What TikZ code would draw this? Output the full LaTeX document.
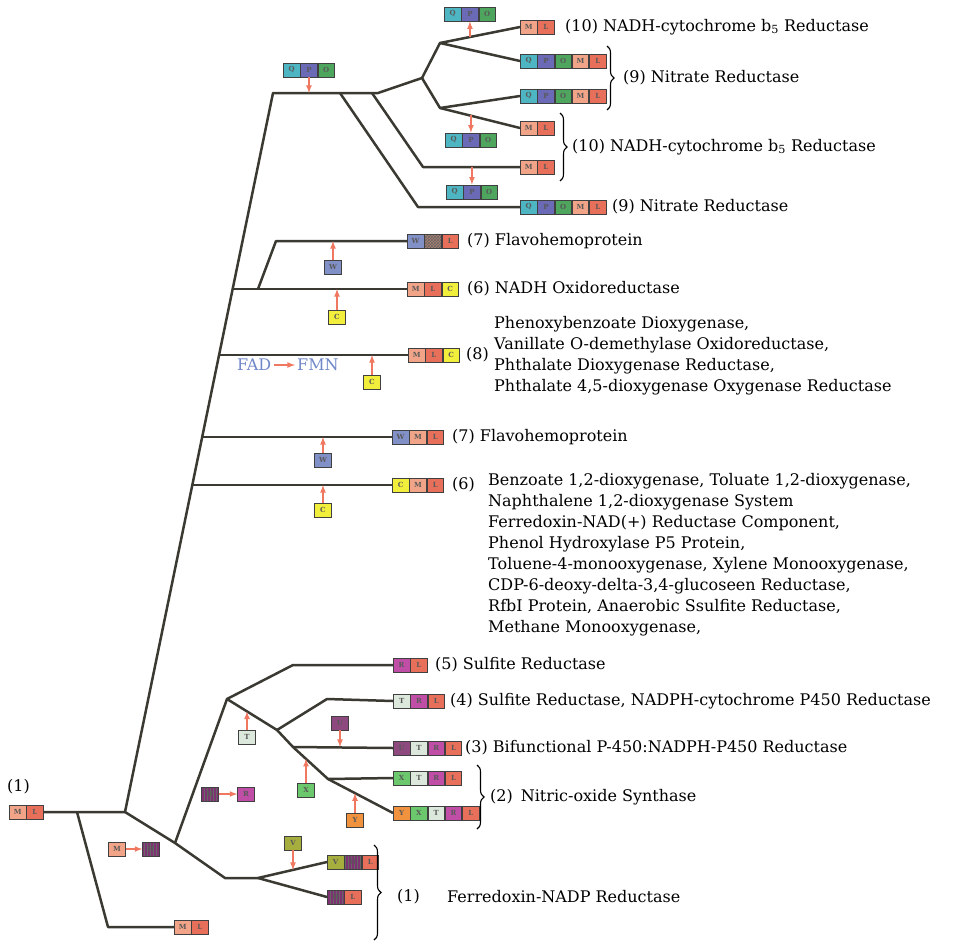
\documentclass[tikz,border=0pt]{standalone}
\usepackage{fontspec}
\setmainfont{DejaVu Serif}
\usetikzlibrary{positioning,patterns,decorations.pathreplacing}

\definecolor{qcol}{HTML}{4DB6C2}
\definecolor{pcol}{HTML}{6A6AB6}
\definecolor{ocol}{HTML}{4EA65E}
\definecolor{mcol}{HTML}{F2A488}
\definecolor{lcol}{HTML}{E8705A}
\definecolor{wcol}{HTML}{8290C8}
\definecolor{ccol}{HTML}{F2EE3C}
\definecolor{rcol}{HTML}{C04EA6}
\definecolor{tcol}{HTML}{DCE8DC}
\definecolor{ucol}{HTML}{8E4A7E}
\definecolor{xcol}{HTML}{6CC86C}
\definecolor{ycol}{HTML}{F0923E}
\definecolor{vcol}{HTML}{A6AE3E}
\definecolor{hcol}{HTML}{7E3272}
\definecolor{zcol}{HTML}{B08070}
\definecolor{arrcol}{HTML}{F07860}
\definecolor{treecol}{HTML}{3A3A32}
\definecolor{fadcol}{HTML}{7088C8}

\tikzset{
	cell/.style    = {draw=black!75, line width=0.8pt, minimum width=16.5pt, minimum height=14pt, inner sep=0pt, font=\fontsize{7}{7}\selectfont\bfseries, text=black!65},
	qcell/.style   = {cell, fill=qcol},
	pcell/.style   = {cell, fill=pcol},
	ocell/.style   = {cell, fill=ocol},
	mcell/.style   = {cell, fill=mcol},
	lcell/.style   = {cell, fill=lcol},
	wcell/.style   = {cell, fill=wcol},
	ccell/.style   = {cell, fill=ccol},
	rcell/.style   = {cell, fill=rcol},
	tcell/.style   = {cell, fill=tcol},
	ucell/.style   = {cell, fill=ucol},
	xcell/.style   = {cell, fill=xcol},
	ycell/.style   = {cell, fill=ycol},
	vcell/.style   = {cell, fill=vcol},
	hcell/.style   = {cell, preaction={fill=hcol}, pattern=vertical lines, pattern color=black!60},
	zcell/.style   = {cell, preaction={fill=zcol}, pattern=crosshatch, pattern color=black!60},
	branch/.style  = {draw=treecol, line width=2.5pt, line join=round},
	feed/.style    = {->, draw=arrcol, line width=1.6pt},
	enzyme/.style  = {font=\fontsize{16}{21}\selectfont, anchor=west, inner sep=0pt, align=left},
	bracket/.style = {decorate, decoration={brace, amplitude=7pt}, line width=1.1pt},
}

\begin{document}
\begin{tikzpicture}[x=1pt, y=-1pt, >=latex]
	\useasboundingbox (0,0) rectangle (955,942);

	% Branch points
	\coordinate (rootfork)  at (77,812);
	\coordinate (rootbend)  at (108,927);
	\coordinate (trunkfoot) at (125,812);
	\coordinate (trunktop)  at (273,93);
	\coordinate (topbend)   at (378,93);
	\coordinate (topfork)   at (422,78);
	\coordinate (nrupfork)  at (440,43);
	\coordinate (nrlowfork) at (440,108);
	\coordinate (nrdiag)    at (340,93);
	\coordinate (nrbend)    at (418,207);
	\coordinate (cbdiag)    at (372,93);
	\coordinate (cbbend)    at (423,167);
	\coordinate (fhafork)   at (233,289);
	\coordinate (fhasplit)  at (258,289);
	\coordinate (fhabend)   at (276,241);
	\coordinate (pdofork)   at (219,355);
	\coordinate (fhbfork)   at (202,437);
	\coordinate (bzdfork)   at (192,485);
	\coordinate (fnrdiag)   at (175,843);
	\coordinate (fnrbend)   at (225,878);
	\coordinate (fnrfork)   at (258,878);
	\coordinate (sirfork)   at (227,699);
	\coordinate (sirbend)   at (293,665);
	\coordinate (cprfork)   at (277,730);
	\coordinate (cprbend)   at (327,699);
	\coordinate (bifork)    at (293,747);
	\coordinate (nosfork)   at (328,779);

	% Root and its sister
	\node[mcell, anchor=west] (rootm) at (9,812) {M};
	\node[lcell, right=0pt of rootm] (rootl) {L};
	\node[enzyme] (roottext) at (7,787) {(1)};
	\node[mcell, anchor=west] (sism) at (174,927) {M};
	\node[lcell, right=0pt of sism] (sisl) {L};

	% Nitrate reductase / cytochrome b5 reductase group
	\node[qcell, anchor=west] (qpotopq) at (283,70) {Q};
	\node[pcell, right=0pt of qpotopq] (qpotopp) {P};
	\node[ocell, right=0pt of qpotopp] (qpotopo) {O};

	\node[mcell, anchor=west] (cbam) at (520,27) {M};
	\node[lcell, right=0pt of cbam] (cbal) {L};
	\node[qcell, anchor=west] (nraq) at (520,61) {Q};
	\node[pcell, right=0pt of nraq] (nrap) {P};
	\node[ocell, right=0pt of nrap] (nrao) {O};
	\node[mcell, right=0pt of nrao] (nram) {M};
	\node[lcell, right=0pt of nram] (nral) {L};
	\node[qcell, anchor=west] (nrbq) at (520,96) {Q};
	\node[pcell, right=0pt of nrbq] (nrbp) {P};
	\node[ocell, right=0pt of nrbp] (nrbo) {O};
	\node[mcell, right=0pt of nrbo] (nrbm) {M};
	\node[lcell, right=0pt of nrbm] (nrbl) {L};
	\node[mcell, anchor=west] (cbbm) at (520,128) {M};
	\node[lcell, right=0pt of cbbm] (cbbl) {L};
	\node[mcell, anchor=west] (cbcm) at (520,167) {M};
	\node[lcell, right=0pt of cbcm] (cbcl) {L};
	\node[qcell, anchor=west] (nrcq) at (520,207) {Q};
	\node[pcell, right=0pt of nrcq] (nrcp) {P};
	\node[ocell, right=0pt of nrcp] (nrco) {O};
	\node[mcell, right=0pt of nrco] (nrcm) {M};
	\node[lcell, right=0pt of nrcm] (nrcl) {L};

	\node[qcell, anchor=west] (qpoupq) at (444,14) {Q};
	\node[pcell, right=0pt of qpoupq] (qpoupp) {P};
	\node[ocell, right=0pt of qpoupp] (qpoupo) {O};
	\node[qcell, anchor=west] (qpomidq) at (445,140) {Q};
	\node[pcell, right=0pt of qpomidq] (qpomidp) {P};
	\node[ocell, right=0pt of qpomidp] (qpomido) {O};
	\node[qcell, anchor=west] (qpolowq) at (446,192) {Q};
	\node[pcell, right=0pt of qpolowq] (qpolowp) {P};
	\node[ocell, right=0pt of qpolowp] (qpolowo) {O};

	\node[enzyme] (cbatext) at (565,27) {(10) NADH-cytochrome b\textsubscript{5} Reductase};
	\node[enzyme] (nrabtext) at (623,78) {(9) Nitrate Reductase};
	\node[enzyme] (cbbctext) at (572,147) {(10) NADH-cytochrome b\textsubscript{5} Reductase};
	\node[enzyme] (nrctext) at (612,207) {(9) Nitrate Reductase};

	% Flavohemoprotein, oxidoreductases
	\node[wcell, anchor=west] (fhaw) at (407,241) {W};
	\node[zcell, right=0pt of fhaw] (fhaz) {};
	\node[lcell, right=0pt of fhaz] (fhal) {L};
	\node[wcell] (fhawin) at (333,267) {W};
	\node[mcell, anchor=west] (noxm) at (407,289) {M};
	\node[lcell, right=0pt of noxm] (noxl) {L};
	\node[ccell, right=0pt of noxl] (noxc) {C};
	\node[ccell] (noxcin) at (337,317) {C};
	\node[mcell, anchor=west] (pdom) at (408,355) {M};
	\node[lcell, right=0pt of pdom] (pdol) {L};
	\node[ccell, right=0pt of pdol] (pdoc) {C};
	\node[ccell] (pdocin) at (372,382) {C};
	\node[enzyme, text=fadcol] (fad) at (237,365) {FAD};
	\node[enzyme, text=fadcol] (fmn) at (297,365) {FMN};
	\node[wcell, anchor=west] (fhbw) at (392,437) {W};
	\node[mcell, right=0pt of fhbw] (fhbm) {M};
	\node[lcell, right=0pt of fhbm] (fhbl) {L};
	\node[wcell] (fhbwin) at (323,460) {W};
	\node[ccell, anchor=west] (bzdc) at (392,485) {C};
	\node[mcell, right=0pt of bzdc] (bzdm) {M};
	\node[lcell, right=0pt of bzdm] (bzdl) {L};
	\node[ccell] (bzdcin) at (323,510) {C};

	\node[enzyme] (fhatext) at (467,241) {(7) Flavohemoprotein};
	\node[enzyme] (noxtext) at (467,289) {(6) NADH Oxidoreductase};
	\node[enzyme] (pdonum) at (466,355) {(8)};
	\node[enzyme] (pdotext) at (494,356) {Phenoxybenzoate Dioxygenase,\\ Vanillate O-demethylase Oxidoreductase,\\ Phthalate Dioxygenase Reductase,\\ Phthalate 4,5-dioxygenase Oxygenase Reductase};
	\node[enzyme] (fhbtext) at (452,437) {(7) Flavohemoprotein};
	\node[enzyme] (bzdnum) at (452,485) {(6)};
	\node[enzyme, anchor=north west] (bzdtext) at (488,473) {Benzoate 1,2-dioxygenase, Toluate 1,2-dioxygenase,\\ Naphthalene 1,2-dioxygenase System\\ Ferredoxin-NAD(+) Reductase Component,\\ Phenol Hydroxylase P5 Protein,\\ Toluene-4-monooxygenase, Xylene Monooxygenase,\\ CDP-6-deoxy-delta-3,4-glucoseen Reductase,\\ RfbI Protein, Anaerobic Ssulfite Reductase,\\ Methane Monooxygenase,};

	% Sulfite reductase, P450 reductase, NO synthase, FNR
	\node[rcell, anchor=west] (sirr) at (393,665) {R};
	\node[lcell, right=0pt of sirr] (sirl) {L};
	\node[tcell, anchor=west] (cprt) at (393,701) {T};
	\node[rcell, right=0pt of cprt] (cprr) {R};
	\node[lcell, right=0pt of cprr] (cprl) {L};
	\node[ucell, anchor=west] (bifu) at (393,748) {U};
	\node[tcell, right=0pt of bifu] (bift) {T};
	\node[rcell, right=0pt of bift] (bifr) {R};
	\node[lcell, right=0pt of bifr] (bifl) {L};
	\node[xcell, anchor=west] (nosax) at (393,778) {X};
	\node[tcell, right=0pt of nosax] (nosat) {T};
	\node[rcell, right=0pt of nosat] (nosar) {R};
	\node[lcell, right=0pt of nosar] (nosal) {L};
	\node[ycell, anchor=west] (nosby) at (393,813) {Y};
	\node[xcell, right=0pt of nosby] (nosbx) {X};
	\node[tcell, right=0pt of nosbx] (nosbt) {T};
	\node[rcell, right=0pt of nosbt] (nosbr) {R};
	\node[lcell, right=0pt of nosbr] (nosbl) {L};
	\node[vcell, anchor=west] (fnrv) at (327,862) {V};
	\node[hcell, right=0pt of fnrv] (fnrh) {H};
	\node[lcell, right=0pt of fnrh] (fnrl) {L};
	\node[hcell, anchor=west] (fnrh2) at (327,897) {H};
	\node[lcell, right=0pt of fnrh2] (fnrl2) {L};

	\node[tcell] (tin) at (247,737) {T};
	\node[hcell] (hin) at (210,794) {H};
	\node[rcell] (rin) at (246,794) {R};
	\node[mcell] (min) at (117,849) {M};
	\node[hcell] (hin2) at (151,849) {H};
	\node[ucell] (uin) at (340,723) {U};
	\node[xcell] (xin) at (306,790) {X};
	\node[ycell] (yin) at (355,820) {Y};
	\node[vcell] (vin) at (293,843) {V};

	\node[enzyme] (sirtext) at (435,665) {(5) Sulfite Reductase};
	\node[enzyme] (cprtext) at (450,701) {(4) Sulfite Reductase, NADPH-cytochrome P450 Reductase};
	\node[enzyme] (biftext) at (465,748) {(3) Bifunctional P-450:NADPH-P450 Reductase};
	\node[enzyme] (nostext) at (490,797) {(2)\enspace Nitric-oxide Synthase};
	\node[enzyme] (fnrnum) at (397,897) {(1)};
	\node[enzyme] (fnrtext) at (447,897) {Ferredoxin-NADP Reductase};

	% Tree
	\draw[branch] (rootl.east) -- (trunkfoot) -- (trunktop) -- (topbend) -- (topfork);
	\draw[branch] (rootfork) -- (rootbend) -- (sism.west);
	\draw[branch] (topfork) -- (nrupfork) -- (cbam.west);
	\draw[branch] (nrupfork) -- (nraq.west);
	\draw[branch] (topfork) -- (nrlowfork) -- (nrbq.west);
	\draw[branch] (nrlowfork) -- (cbbm.west);
	\draw[branch] (cbdiag) -- (cbbend) -- (cbcm.west);
	\draw[branch] (nrdiag) -- (nrbend) -- (nrcq.west);
	\draw[branch] (fhafork) -- (noxm.west);
	\draw[branch] (fhasplit) -- (fhabend) -- (fhaw.west);
	\draw[branch] (pdofork) -- (pdom.west);
	\draw[branch] (fhbfork) -- (fhbw.west);
	\draw[branch] (bzdfork) -- (bzdc.west);
	\draw[branch] (trunkfoot) -- (fnrdiag) -- (fnrbend) -- (fnrfork) -- (fnrv.west);
	\draw[branch] (fnrfork) -- (fnrh2.west);
	\draw[branch] (fnrdiag) -- (sirfork) -- (sirbend) -- (sirr.west);
	\draw[branch] (sirfork) -- (cprfork) -- (bifork) -- (nosfork) -- (nosby.west);
	\draw[branch] (cprfork) -- (cprbend) -- (cprt.west);
	\draw[branch] (bifork) -- (bifu.west);
	\draw[branch] (nosfork) -- (nosax.west);

	% Feet of the domain arrows on slanted branches
	\path (nrupfork) -- (cbam.west) coordinate[pos=0.36] (qpoupfoot);
	\path (nrlowfork) -- (cbbm.west) coordinate[pos=0.36] (qpomidfoot);
	\path (sirfork) -- (cprfork) coordinate[pos=0.4] (tinfoot);
	\path (bifork) -- (nosfork) coordinate[pos=0.37] (xinfoot);
	\path (nosfork) -- (nosby.west) coordinate[pos=0.42] (yinfoot);
	\path (fnrfork) -- (fnrv.west) coordinate[pos=0.5] (vinfoot);

	% Domain gains
	\draw[feed] (qpotopp) -- (qpotopp |- trunktop);
	\draw[feed] (qpoupp |- qpoupfoot) -- (qpoupp);
	\draw[feed] (qpomidp |- qpomidfoot) -- (qpomidp);
	\draw[feed] (qpolowp |- cbbend) -- (qpolowp);
	\draw[feed] (fhawin) -- (fhawin |- fhabend);
	\draw[feed] (noxcin) -- (noxcin |- fhafork);
	\draw[feed] (pdocin) -- (pdocin |- pdofork);
	\draw[feed, shorten <=3pt, shorten >=2pt] (fad) -- (fmn);
	\draw[feed] (fhbwin) -- (fhbwin |- fhbfork);
	\draw[feed] (bzdcin) -- (bzdcin |- bzdfork);
	\draw[feed] (tin) -- (tin |- tinfoot);
	\draw[feed] (hin) -- (rin);
	\draw[feed] (min) -- (hin2);
	\draw[feed] (uin) -- (uin |- bifork);
	\draw[feed] (xin) -- (xin |- xinfoot);
	\draw[feed] (yin) -- (yin |- yinfoot);
	\draw[feed] (vin) -- (vin |- vinfoot);

	% Groups
	\draw[bracket] (607,46) -- (607,110);
	\draw[bracket] (560,113) -- (560,181);
	\draw[bracket] (477,765) -- (477,829);
	\draw[bracket] (374,845) -- (374,940);
\end{tikzpicture}
\end{document}
